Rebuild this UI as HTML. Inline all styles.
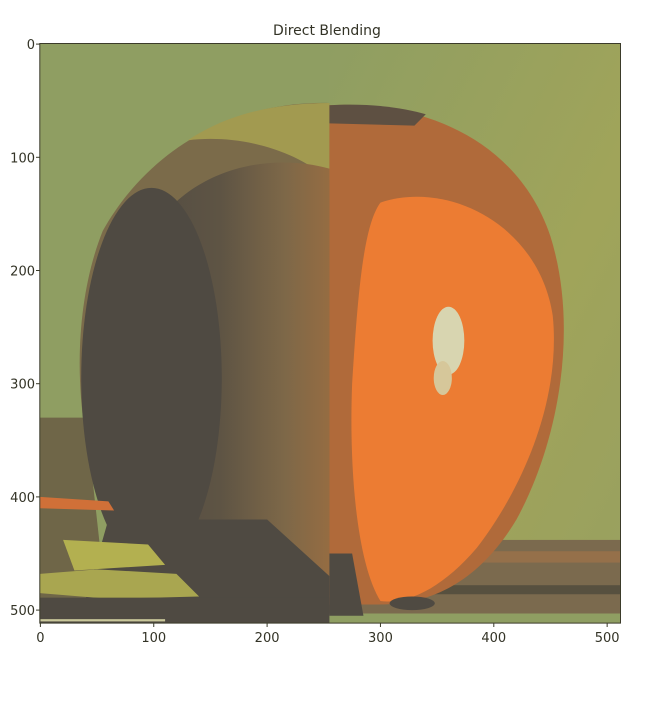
<!DOCTYPE html>
<html><head><meta charset="utf-8"><style>
html,body{margin:0;padding:0;background:#fff;}
svg{display:block;}
text{font-family:"DejaVu Sans","Liberation Sans",sans-serif;fill:#333326;}
</style></head><body>
<svg id="chart" width="667" height="705" viewBox="0 0 667 705">
<defs>
<linearGradient id="leftShade" x1="0" x2="1" y1="0" y2="0">
<stop offset="0" stop-color="#4f4a42"/><stop offset="0.5" stop-color="#5e5444"/><stop offset="0.8" stop-color="#7e6848"/><stop offset="1" stop-color="#956c42"/>
</linearGradient>
<linearGradient id="rightBg" x1="0" x2="1" y1="0" y2="1">
<stop offset="0" stop-color="#8f9e62"/><stop offset="0.6" stop-color="#a0a45a"/><stop offset="1" stop-color="#98a060"/>
</linearGradient>
<clipPath id="imgClip"><rect x="-0.5" y="-0.5" width="512" height="512"/></clipPath>
</defs>
<text x="327" y="35" font-size="14" text-anchor="middle">Direct Blending</text>
<g id="image" transform="translate(40.4,44.1) scale(1.1335,1.132)" clip-path="url(#imgClip)">
  <rect x="-0.5" y="-0.5" width="256" height="512" fill="#8f9e62"/>
  <rect x="255" y="-0.5" width="257" height="512" fill="url(#rightBg)"/>
  <path d="M-0.5,330 L40,330 L60,512 L-0.5,512Z" fill="#6f6648"/>
  <path d="M255,52 C180,50 100,85 55,165 C25,240 28,350 65,430 C95,485 150,500 255,500 Z" fill="#7b6b4a"/>
  <path d="M255,52 C200,52 160,65 130,85 C170,80 220,90 255,120 Z" fill="#a29a50"/>
  <path d="M255,110 C200,95 130,110 95,170 C55,240 50,360 90,430 C120,480 180,495 255,495 Z" fill="url(#leftShade)"/>
  <ellipse cx="98" cy="295" rx="62" ry="168" fill="#4f4a42"/>
  <path d="M60,420 L200,420 L255,470 L255,512 L-0.5,512 L-0.5,490 L40,490 Z" fill="#4f4a42"/>
  <path d="M-0.5,400 L60,404 L65,412 L-0.5,410Z" fill="#d07038"/>
  <path d="M20,438 L95,442 L110,460 L30,465 Z" fill="#b3b050"/>
  <path d="M-0.5,468 L50,464 L120,468 L140,488 L60,490 L-0.5,485 Z" fill="#a9a650"/>
  <rect x="-0.5" y="489" width="256" height="23" fill="#4f4a42"/>
  <rect x="0" y="508" width="110" height="2" fill="#c9c79a"/>
  <rect x="255" y="438" width="257" height="74" fill="#7b6a4e"/>
  <rect x="255" y="448" width="257" height="10" fill="#95704a"/>
  <rect x="255" y="478" width="257" height="8" fill="#57503f"/>
  <rect x="255" y="503" width="257" height="9" fill="#8f9e62"/>
  <path d="M255,54 C330,50 420,80 450,170 C475,250 458,350 420,420 C390,470 350,495 300,495 L255,495 Z" fill="#b06a3a"/>
  <path d="M255,54 C290,52 320,56 340,62 L330,72 L255,70 Z" fill="#5e5042"/>
  <path d="M300,140 C360,120 440,160 452,240 C460,320 420,400 385,445 C355,480 325,495 300,492 C280,460 272,380 275,300 C280,220 285,160 300,140 Z" fill="#ec7c33"/>
  <path d="M255,450 L275,450 L285,505 L255,505 Z" fill="#4f4a42"/>
  <ellipse cx="328" cy="494" rx="20" ry="6" fill="#4f4a42"/>
  <ellipse cx="360" cy="262" rx="14" ry="30" fill="#d8d5b0"/>
  <ellipse cx="355" cy="295" rx="8" ry="15" fill="#d6c79a"/>
</g>
<rect x="39.8" y="43.5" width="580.7" height="579.6" fill="none" stroke="#3b3b2a" stroke-width="1"/>
<g id="xaxis"></g>
<g id="yaxis"></g>
</svg>
<script>
const xTicks = [0, 100, 200, 300, 400, 500];
const yTicks = [0, 100, 200, 300, 400, 500];
const xTickLabels = ["0", "100", "200", "300", "400", "500"];
const yTickLabels = ["0", "100", "200", "300", "400", "500"];
const NS = "http://www.w3.org/2000/svg";
function xScale(v){ return 40.4 + v * 1.1335; }
function yScale(v){ return 44.1 + v * 1.132; }
const xg = document.getElementById('xaxis');
const yg = document.getElementById('yaxis');
xTicks.forEach((t,i)=>{
  const x = xScale(t);
  const l = document.createElementNS(NS,'line');
  l.setAttribute('x1',x); l.setAttribute('x2',x); l.setAttribute('y1',623); l.setAttribute('y2',627);
  l.setAttribute('stroke','#3b3b2a');
  
  
  xg.appendChild(l);
  const tx = document.createElementNS(NS,'text');
  tx.setAttribute('x',x); tx.setAttribute('y',642); tx.setAttribute('font-size','13'); tx.setAttribute('text-anchor','middle');
  tx.textContent = xTickLabels[i];
  
  
  xg.appendChild(tx);
});
yTicks.forEach((t,i)=>{
  const y = yScale(t);
  const l = document.createElementNS(NS,'line');
  l.setAttribute('x1',36); l.setAttribute('x2',40); l.setAttribute('y1',y); l.setAttribute('y2',y);
  l.setAttribute('stroke','#3b3b2a');
  
  
  yg.appendChild(l);
  const tx = document.createElementNS(NS,'text');
  tx.setAttribute('x',35); tx.setAttribute('y',y+5); tx.setAttribute('font-size','13'); tx.setAttribute('text-anchor','end');
  tx.textContent = yTickLabels[i];
  
  
  yg.appendChild(tx);
});
</script>
</body></html>
